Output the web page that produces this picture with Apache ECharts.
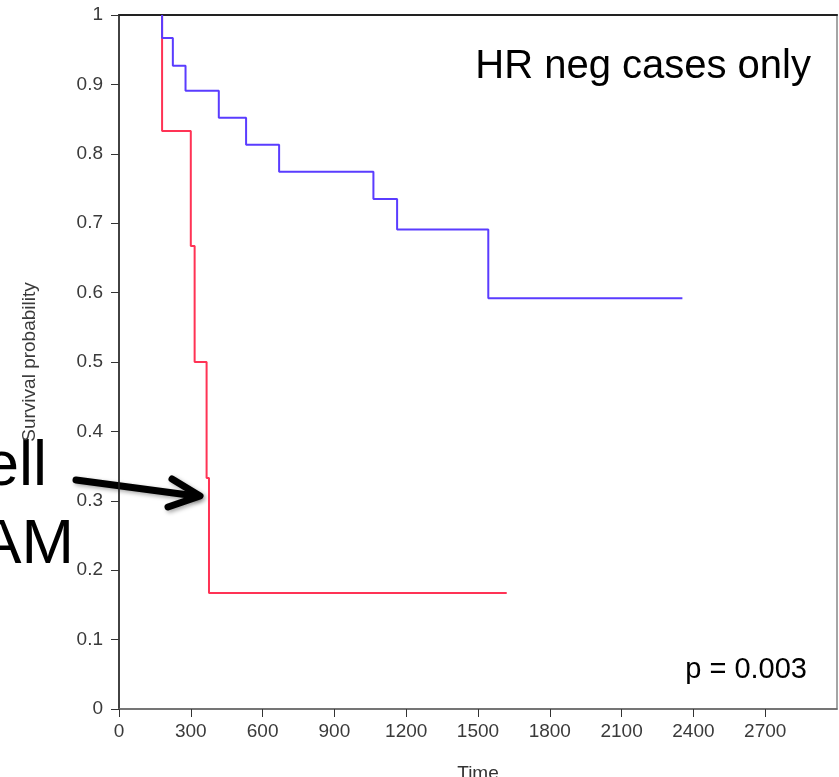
<!DOCTYPE html>
<html>
<head>
<meta charset="utf-8">
<script src="https://cdn.jsdelivr.net/npm/echarts@6/dist/echarts.min.js"></script>
<style>html,body{margin:0;padding:0;background:#fff}#c{width:839px;height:777px}</style>
</head>
<body>
<div id="c"></div>
<script>
// Kaplan-Meier curves: [time, survival]
var blueTimes = [180, 180, 225, 278, 417, 531, 669, 1063, 1162, 1543, 2354];
var blueSurv  = [1, 0.967, 0.927, 0.891, 0.852, 0.813, 0.774, 0.735, 0.691, 0.592, 0.592];
var redTimes  = [180, 180, 300, 316, 366, 376, 1620];
var redSurv   = [1, 0.833, 0.667, 0.5, 0.333, 0.167, 0.167];
var xTicks = [0, 300, 600, 900, 1200, 1500, 1800, 2100, 2400, 2700];
var yTicks = [0, 0.1, 0.2, 0.3, 0.4, 0.5, 0.6, 0.7, 0.8, 0.9, 1];

function pairs(t, s){ return t.map(function(v,i){ return [v, s[i]]; }); }

var chart = echarts.init(document.getElementById('c'), null, {renderer:'canvas'});
var font = 'Liberation Sans, Arial, sans-serif';
chart.setOption({
  animation: false,
  backgroundColor: '#fff',
  grid: { left: 119, right: 2, top: 15, bottom: 68, show: true, borderColor: '#888', borderWidth: 1.5,
          containLabel: false, outerBoundsMode: 'none' },
  xAxis: [{
    type: 'value', min: 0, max: 3000, interval: 300,
    name: 'Time', nameLocation: 'middle', nameGap: 55,
    nameTextStyle: { fontFamily: font, fontSize: 19, color: '#333' },
    axisLine: { show: true, lineStyle: { color: '#666', width: 1.5 } },
    axisTick: { show: true, length: 8, lineStyle: { color: '#333' }, customValues: xTicks },
    axisLabel: { margin: 13, fontFamily: font, fontSize: 19, color: '#3a3a3a', customValues: xTicks,
                 formatter: function(v){ return String(v); } },
    splitLine: { show: false }
  }, {
    type: 'value', min: 0, max: 3000, position: 'top',
    axisLine: { show: true, lineStyle: { color: '#222', width: 2 } },
    axisTick: { show: false }, axisLabel: { show: false }, splitLine: { show: false }
  }],
  yAxis: {
    type: 'value', min: 0, max: 1, interval: 0.1,
    name: 'Survival probability', nameLocation: 'middle', nameGap: 80,
    nameTextStyle: { fontFamily: font, fontSize: 19, color: '#3a3a3a' },
    axisLine: { show: true, lineStyle: { color: '#222', width: 1.5 } },
    axisTick: { show: true, length: 8, lineStyle: { color: '#333' }, customValues: yTicks },
    axisLabel: { margin: 16, fontFamily: font, fontSize: 19, color: '#3a3a3a', customValues: yTicks },
    splitLine: { show: false }
  },
  series: [
    { type: 'line', step: 'end', data: pairs(redTimes, redSurv), showSymbol: false,
      lineStyle: { color: '#ff3355', width: 2 }, z: 2 },
    { type: 'line', step: 'end', data: pairs(blueTimes, blueSurv), showSymbol: false,
      lineStyle: { color: '#5a3cff', width: 2 }, z: 3 }
  ],
  graphic: [
    { type: 'text', right: 28, top: 47, style: { text: 'HR neg cases only', font: '40px ' + font, fill: '#000' } },
    { type: 'text', right: 32, top: 655, style: { text: 'p = 0.003', font: '29px ' + font, fill: '#000' } },
    { type: 'text', x: 47, y: 499, style: { text: 'ell', font: '63px ' + font, fill: '#000', textAlign: 'right', textVerticalAlign: 'bottom' } },
    { type: 'text', x: 74, y: 577, style: { text: 'AM', font: '63px ' + font, fill: '#000', textAlign: 'right', textVerticalAlign: 'bottom' } },
    { type: 'polyline', shape: { points: [[76, 480], [196, 496]] },
      style: { stroke: '#000', lineWidth: 7, lineCap: 'round', shadowBlur: 4, shadowColor: 'rgba(0,0,0,0.35)', shadowOffsetX: 2, shadowOffsetY: 2 } },
    { type: 'polyline', shape: { points: [[172, 479], [200, 496], [168, 507]] },
      style: { stroke: '#000', lineWidth: 7, lineCap: 'round', lineJoin: 'round', fill: null, shadowBlur: 4, shadowColor: 'rgba(0,0,0,0.35)', shadowOffsetX: 2, shadowOffsetY: 2 } }
  ]
});
</script>
</body>
</html>
